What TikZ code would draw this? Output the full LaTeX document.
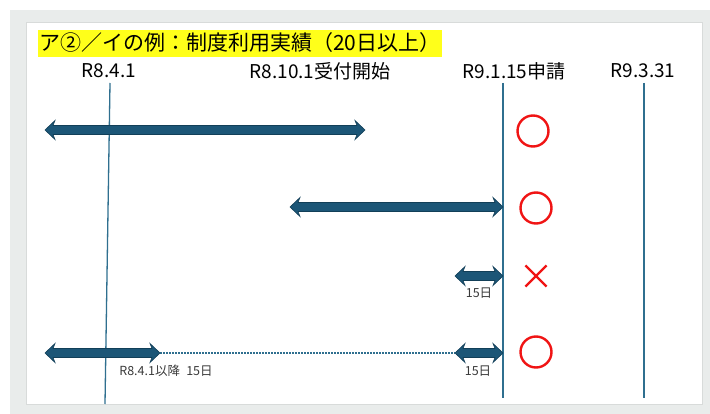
\documentclass[tikz,border=0pt]{standalone}
\usepackage{fontspec}
\setmainfont{Noto Sans CJK JP}
\usetikzlibrary{shapes.misc}
\definecolor{bggray}{HTML}{E9ECEB}
\definecolor{panelline}{HTML}{D8DBDA}
\definecolor{tline}{HTML}{2F6F8F}
\definecolor{afill}{HTML}{1C5677}
\definecolor{aline}{HTML}{123F58}
\definecolor{hiyel}{HTML}{FFFF1A}
\definecolor{okred}{HTML}{F01414}
\definecolor{smalltxt}{HTML}{3A3A3A}
\tikzset{
  blockarrow/.style={fill=afill, draw=aline, line width=0.6pt, line join=miter,
    to path={(\tikztostart) -- ([shift={(10pt,9.5pt)}]\tikztostart) -- ([shift={(8pt,4.5pt)}]\tikztostart)
      -- ([shift={(-8pt,4.5pt)}]\tikztotarget) -- ([shift={(-10pt,9.5pt)}]\tikztotarget) -- (\tikztotarget)
      -- ([shift={(-10pt,-9.5pt)}]\tikztotarget) -- ([shift={(-8pt,-4.5pt)}]\tikztotarget)
      -- ([shift={(8pt,-4.5pt)}]\tikztostart) -- ([shift={(10pt,-9.5pt)}]\tikztostart) -- cycle}},
  timeline/.style={draw=tline, line width=1.3pt},
  dotline/.style={draw=tline, line width=1.2pt, dash pattern=on 2pt off 1pt},
  datelabel/.style={font=\fontsize{19}{22}\selectfont, text=black, inner sep=0pt},
  smalllabel/.style={font=\fontsize{12.5}{14}\selectfont, text=smalltxt, inner sep=0pt},
  okmark/.style={circle, draw=okred, line width=2.4pt, minimum size=31pt, inner sep=0pt},
  ngmark/.style={cross out, draw=okred, line width=2.2pt, minimum size=19pt, inner sep=0pt},
}
\begin{document}
\begin{tikzpicture}[x=1pt, y=-1pt]
\useasboundingbox (0,0) rectangle (710,414);
% background
\fill[white] (0,0) rectangle (710,414);
\fill[bggray] (10,10) rectangle (710,414);
\filldraw[fill=white, draw=panelline, line width=0.8pt] (26,22) rectangle (702,404);
% title
\node[anchor=west, fill=hiyel, inner xsep=1pt, inner ysep=3pt, text height=17pt, text depth=4pt,
      font=\fontsize{21}{24}\selectfont] (title) at (38,44) {ア②／イの例：制度利用実績（20日以上）};
% date labels
\node[datelabel] (d1) at (109,71) {R8.4.1};
\node[datelabel] (d2) at (320,71) {R8.10.1受付開始};
\node[datelabel] (d3) at (514,71) {R9.1.15申請};
\node[datelabel] (d4) at (643,71) {R9.3.31};
% timelines
\coordinate (t1top) at (110,83); \coordinate (t1bot) at (105,404);
\coordinate (t3top) at (503,83); \coordinate (t3bot) at (503,398);
\coordinate (t4top) at (644,83); \coordinate (t4bot) at (644,398);
\draw[timeline] (t1top) -- (t1bot);
\draw[timeline] (t3top) -- (t3bot);
\draw[timeline] (t4top) -- (t4bot);
% arrows
\coordinate (a1l) at (45,130);  \coordinate (a1r) at (365,130);
\coordinate (a2l) at (290,207); \coordinate (a2r) at (503,207);
\coordinate (a3l) at (455,276); \coordinate (a3r) at (503,276);
\coordinate (a4l) at (45,353);  \coordinate (a4m) at (160,353);
\coordinate (a4n) at (455,353); \coordinate (a4r) at (503,353);
\draw[dotline] (a4m) -- (a4n);
\draw[blockarrow] (a1l) to (a1r);
\draw[blockarrow] (a2l) to (a2r);
\draw[blockarrow] (a3l) to (a3r);
\draw[blockarrow] (a4l) to (a4m);
\draw[blockarrow] (a4n) to (a4r);
% small labels
\node[smalllabel] (l3) at (479,293) {15日};
\node[smalllabel] (l4a) at (166,371) {R8.4.1以降\hspace{0.5em}15日};
\node[smalllabel] (l4b) at (478,371) {15日};
% marks
\node[okmark] (m1) at (533,131) {};
\node[okmark] (m2) at (536,208) {};
\node[ngmark] (m3) at (536,276) {};
\node[okmark] (m4) at (536,352) {};
\end{tikzpicture}
\end{document}
